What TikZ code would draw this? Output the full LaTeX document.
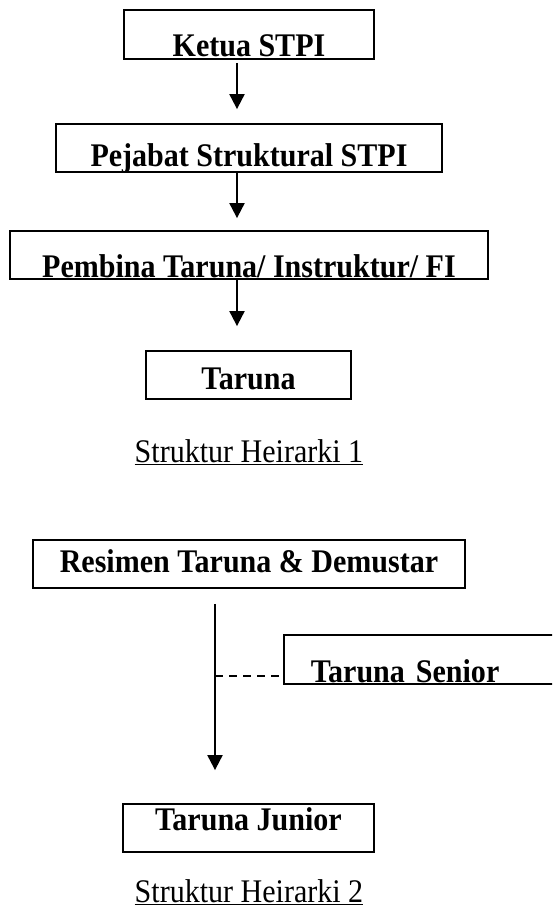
\documentclass[tikz,border=0pt]{standalone}
\usepackage{fontspec}
\setmainfont{Liberation Serif}[FakeStretch=0.91]
\usetikzlibrary{arrows.meta}
\tikzset{
  box/.style={draw, line width=1.8pt, inner ysep=0pt, font=\bfseries\fontsize{33}{38}\selectfont},
  arr/.style={-{Triangle[length=15pt,width=15pt]}, line width=2pt},
  capt/.style={anchor=base, inner sep=0pt, font=\fontsize{33}{38}\selectfont}
}
\begin{document}
\begin{tikzpicture}[x=1pt,y=-1pt]
      \clip (0,0) rectangle (552,909);
      \node[box, minimum width=250pt, text height=47pt, text depth=2pt] (ketua) at (249,34.5) {Ketua STPI};
      \node[box, minimum width=386pt, text height=43pt, text depth=5pt] (pejabat) at (249,148) {Pejabat Struktural STPI};
      \node[box, minimum width=478pt, text height=46pt, text depth=2pt] (pembina) at (249,255) {Pembina Taruna/ Instruktur/ FI};
      \node[box, minimum width=205pt, text height=38pt, text depth=10pt] (taruna) at (248.5,375) {Taruna};
      \node[capt] (struktur1) at (249,462) {\underline{Struktur Heirarki 1}};
      \node[box, minimum width=432pt, text height=32pt, text depth=16pt] (resimen) at (249,564) {Resimen Taruna \& Demustar};
      \node[box, anchor=west, inner xsep=27pt, text width=260pt, align=left, text height=47pt, text depth=2pt] (senior) at (283,659.5) {Taruna Senior};
      \node[box, minimum width=251pt, text height=26pt, text depth=22pt] (junior) at (248.5,828) {Taruna Junior};
      \node[capt] (struktur2) at (249,902) {\underline{Struktur Heirarki 2}};
      \coordinate (cabang) at (215,676);
      \begin{scope}[arr]
        \draw[shorten <=3pt, shorten >=14pt] ([xshift=-12pt]ketua.south) to ([xshift=-12pt]pejabat.north);
        \draw[shorten >=12pt] ([xshift=-12pt]pejabat.south) to ([xshift=-12pt]pembina.north);
        \draw[shorten >=24pt] ([xshift=-12pt]pembina.south) to ([xshift=-11.5pt]taruna.north);
        \draw[shorten <=15pt, shorten >=33pt] ([xshift=-34pt]resimen.south) to ([xshift=-33.5pt]junior.north);
      \end{scope}
      \draw[line width=1.5pt, dash pattern=on 8pt off 6pt] (cabang) to (cabang -| senior.west);
    \end{tikzpicture}
\end{document}
